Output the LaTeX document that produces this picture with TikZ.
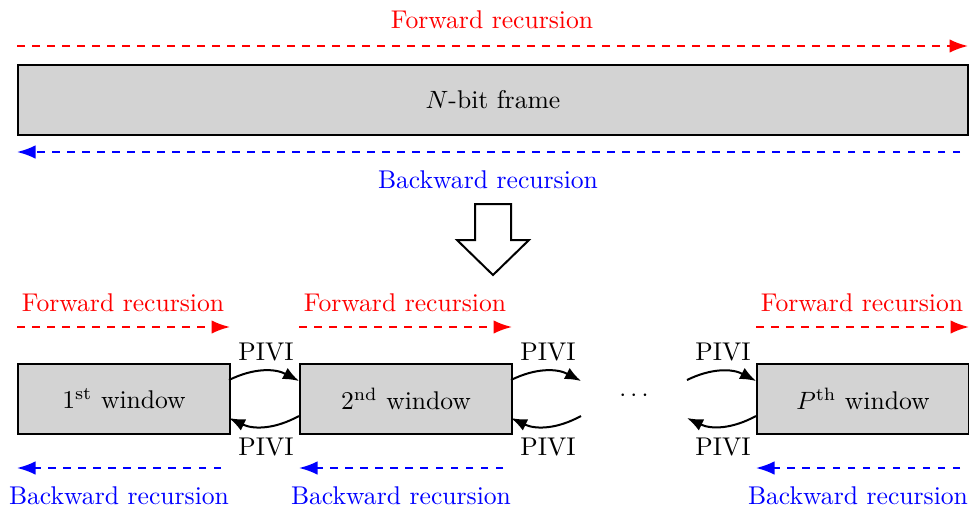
\documentclass[tikz,border=0pt]{standalone}
\usetikzlibrary{arrows.meta}
\definecolor{boxgray}{RGB}{211,211,211}
\begin{document}
\begin{tikzpicture}[x=0.4pt,y=-0.4pt,
  box/.style={draw,thick,fill=boxgray,minimum height=28pt,inner sep=0pt,anchor=north west},
  fwd/.style={red,dashed,thick,-{Latex[length=7.4pt,width=5.4pt]}},
  bwd/.style={blue,dashed,thick,-{Latex[length=7.4pt,width=5.4pt]}},
  piv/.style={thick,-{Latex[length=6.4pt,width=5pt]}},
  lab/.style={inner sep=0pt,font=\fontsize{10.25}{12}\selectfont}]
\useasboundingbox (0,0) rectangle (969,508);
% top frame
\node[box,minimum width=950*0.4pt] (frame) at (17,64) {};
\node[lab] at (frame.center) {$N$-bit frame};
\coordinate (tf1) at (17,46); \coordinate (tf2) at (968,46);
\draw[fwd] (tf1) -- (tf2);
\node[lab,red] (tfl) at (492,20) {Forward recursion};
\coordinate (tb1) at (960,152); \coordinate (tb2) at (17,152);
\draw[bwd] (tb1) -- (tb2);
\node[lab,blue] (tbl) at (488,180) {Backward recursion};
% big arrow
\draw[thick,fill=white] (475,204) -- (511,204) -- (511,240) -- (529,240) -- (493,275) -- (457,240) -- (475,240) -- cycle;
% windows
\foreach \n/\x/\t in {w1/17/{1\textsuperscript{st} window},w2/299/{2\textsuperscript{nd} window},wp/756/{$P$\textsuperscript{th} window}}{
  \node[box,minimum width=212*0.4pt] (\n) at (\x,363) {};
  \node[lab] at (\n.center) {\t};
  \coordinate (\n fa) at (\x,327);
  \coordinate (\n fb) at (\x+213,327);
  \draw[fwd] (\n fa) -- (\n fb);
  \coordinate (\n ba) at (\x+204,468);
  \coordinate (\n bb) at (\x,468);
  \draw[bwd] (\n ba) -- (\n bb);
  \node[lab,red] at (\x+106,303) {Forward recursion};
  \node[lab,blue] at (\x+102,496) {Backward recursion};
}
% PIVI arrows
\coordinate (a1) at (229,380); \coordinate (b1) at (299,381);
\coordinate (c1) at (299,416); \coordinate (d1) at (229,418);
\draw[piv] (a1) to[bend left=27] (b1);
\draw[piv] (c1) to[bend left=27] (d1);
\node[lab] at (266,352) {PIVI};
\node[lab] at (266,447) {PIVI};
\coordinate (a2) at (511,380); \coordinate (b2) at (581,381);
\coordinate (c2) at (581,416); \coordinate (d2) at (511,418);
\draw[piv] (a2) to[bend left=27] (b2);
\draw[piv] (c2) to[bend left=27] (d2);
\node[lab] at (548,352) {PIVI};
\node[lab] at (548,447) {PIVI};
\node[lab] (dots) at (634,396) {$\cdots$};
\coordinate (a3) at (687,380); \coordinate (b3) at (756,381);
\coordinate (c3) at (756,416); \coordinate (d3) at (687,418);
\draw[piv] (a3) to[bend left=27] (b3);
\draw[piv] (c3) to[bend left=27] (d3);
\node[lab] at (723,352) {PIVI};
\node[lab] at (723,447) {PIVI};
\end{tikzpicture}
\end{document}
